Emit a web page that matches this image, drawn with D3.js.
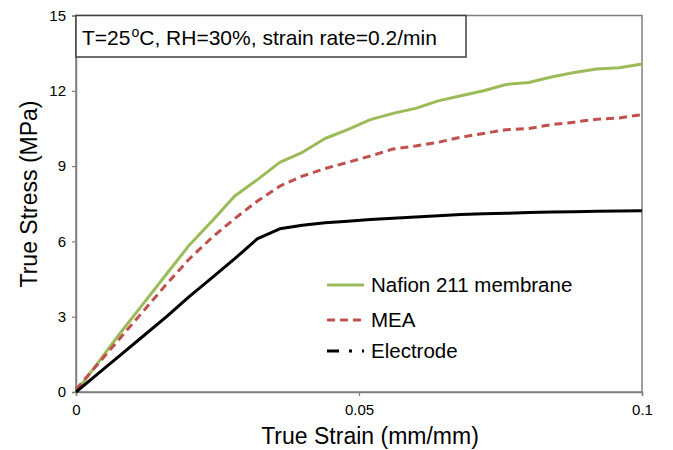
<!DOCTYPE html>
<html>
<head>
<meta charset="utf-8">
<script src="https://cdn.jsdelivr.net/npm/d3@7"></script>
<style>
  html, body { margin: 0; padding: 0; background: #fff; }
  svg { display: block; font-family: "Liberation Sans", Arial, sans-serif; }
</style>
</head>
<body>
<svg id="chart" width="673" height="450"></svg>
<script>
// ---- data ----
const strain = [0, 0.004, 0.008, 0.012, 0.016, 0.020, 0.024, 0.028, 0.032, 0.036, 0.040, 0.044, 0.048,
  0.052, 0.056, 0.060, 0.064, 0.068, 0.072, 0.076, 0.080, 0.084, 0.088, 0.092, 0.096, 0.100];
const nafion = [0, 1.2, 2.4, 3.55, 4.7, 5.85, 6.8, 7.8, 8.45, 9.15, 9.55, 10.1, 10.45,
  10.85, 11.1, 11.3, 11.6, 11.8, 12.0, 12.25, 12.33, 12.55, 12.73, 12.87, 12.92, 13.07];
const mea = [0.1, 1.15, 2.2, 3.25, 4.3, 5.3, 6.15, 6.9, 7.6, 8.2, 8.6, 8.9, 9.15,
  9.4, 9.68, 9.8, 9.95, 10.15, 10.3, 10.45, 10.5, 10.65, 10.75, 10.87, 10.92, 11.05];
const electrode = [0, 0.75, 1.5, 2.25, 3.0, 3.8, 4.55, 5.3, 6.1, 6.5, 6.64, 6.74, 6.8,
  6.87, 6.92, 6.97, 7.02, 7.07, 7.1, 7.12, 7.15, 7.17, 7.18, 7.2, 7.21, 7.22];
const seriesNames = ["Nafion 211 membrane", "MEA", "Electrode"];
const xTicks = [0, 0.05, 0.1];
const xTickLabels = ["0", "0.05", "0.1"];
const yTicks = [0, 3, 6, 9, 12, 15];
const annotation = ["T=25", "o", "C, RH=30%, strain rate=0.2/min"];
const xTitle = "True Strain (mm/mm)";
const yTitle = "True Stress (MPa)";

// ---- layout ----
const svg = d3.select("#chart");
const m = { left: 76, right: 31, top: 15.5, bottom: 58 };
const W = 673, H = 450;
const x = d3.scaleLinear().domain([0, 0.1]).range([m.left, W - m.right]);
const y = d3.scaleLinear().domain([0, 15]).range([H - m.bottom, m.top]);

const styles = [
  { color: "#9BBB59", dash: null, legendDash: null },
  { color: "#C0504D", dash: "8,5", legendDash: "8,5" },
  { color: "#000000", dash: null, legendDash: "12,10,3,10" }
];
const values = [nafion, mea, electrode];

// frame
svg.append("rect")
  .attr("x", x(0)).attr("y", y(15))
  .attr("width", x(0.1) - x(0)).attr("height", y(0) - y(15))
  .attr("fill", "none").attr("stroke", "#7f7f7f").attr("stroke-width", 1.5);

// axes
const yAxis = d3.axisLeft(y).tickValues(yTicks).tickSize(4).tickPadding(6).tickFormat(d3.format("d"));
const gy = svg.append("g").attr("transform", `translate(${x(0)},0)`).call(yAxis);
const xAxis = d3.axisBottom(x).tickValues(xTicks).tickSize(4).tickPadding(8)
  .tickFormat((d, i) => xTickLabels[i]);
const gx = svg.append("g").attr("transform", `translate(0,${y(0)})`).call(xAxis);
[gx, gy].forEach(g => {
  g.select(".domain").attr("stroke", "#7f7f7f").attr("stroke-width", 1.5);
  g.selectAll(".tick line").attr("stroke", "#7f7f7f").attr("stroke-width", 1.2);
  g.selectAll(".tick text").attr("fill", "#000").style("font-size", "15px")
    .style("font-family", "'Liberation Sans', Arial, sans-serif");
});

// lines
const line = d3.line().x((d, i) => x(strain[i])).y(d => y(d));
values.forEach((vals, k) => {
  svg.append("path")
    .datum(vals)
    .attr("d", line)
    .attr("fill", "none")
    .attr("stroke", styles[k].color)
    .attr("stroke-width", 3)
    .attr("stroke-dasharray", styles[k].dash)
    .attr("stroke-linejoin", "round");
});

// annotation box
svg.append("rect")
  .attr("x", x(0)).attr("y", y(15))
  .attr("width", 390).attr("height", 41.5)
  .attr("fill", "#fff").attr("stroke", "#404040").attr("stroke-width", 1.5);
const at = svg.append("text").attr("x", x(0) + 6).attr("y", 45)
  .style("font-size", "21px").attr("fill", "#000");
at.append("tspan").text(annotation[0]);
at.append("tspan").attr("dy", -8).attr("dx", 1).style("font-size", "14px").text(annotation[1]);
at.append("tspan").attr("dy", 8).text(annotation[2]);

// legend
const legY = [285, 320, 351];
seriesNames.forEach((name, k) => {
  svg.append("line")
    .attr("x1", 327).attr("x2", 364)
    .attr("y1", legY[k]).attr("y2", legY[k])
    .attr("stroke", styles[k].color).attr("stroke-width", 3)
    .attr("stroke-dasharray", styles[k].legendDash);
  svg.append("text").attr("x", 371).attr("y", legY[k] + 7)
    .style("font-size", "20.5px").attr("fill", "#000").text(name);
});

// axis titles
svg.append("text")
  .attr("x", 370).attr("y", 444)
  .attr("text-anchor", "middle")
  .style("font-size", "23px").attr("fill", "#000")
  .text(xTitle);
svg.append("text")
  .attr("transform", "translate(37,194) rotate(-90)")
  .attr("text-anchor", "middle")
  .style("font-size", "23px").attr("fill", "#000")
  .text(yTitle);
</script>
</body>
</html>
